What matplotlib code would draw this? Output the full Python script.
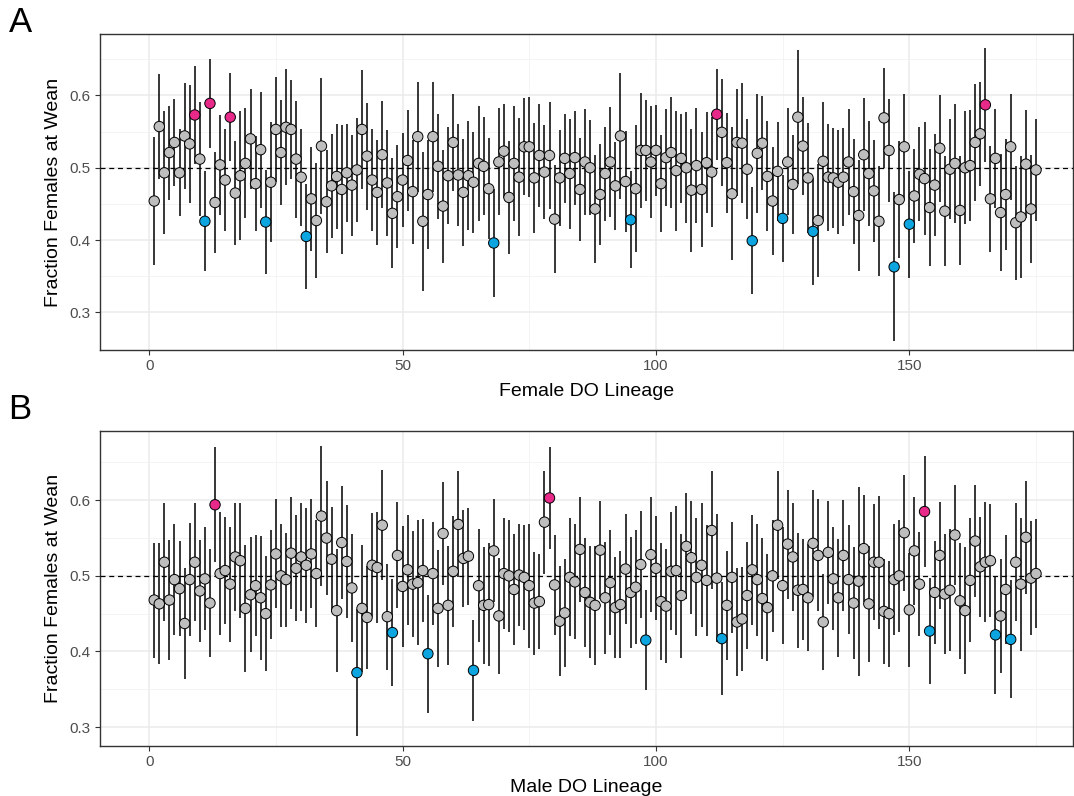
import matplotlib
matplotlib.use("Agg")
import matplotlib.pyplot as plt
import numpy as np

plt.rcParams['font.family'] = ['Liberation Sans', 'DejaVu Sans']

# Female DO lineages: fraction females at wean and half-width of the interval
female_frac = [
    0.454, 0.557, 0.493, 0.521, 0.535, 0.493, 0.544, 0.533, 0.573, 0.512,
    0.426, 0.589, 0.452, 0.504, 0.483, 0.570, 0.465, 0.489, 0.506, 0.540,
    0.478, 0.525, 0.425, 0.480, 0.553, 0.521, 0.556, 0.553, 0.512, 0.487,
    0.405, 0.457, 0.427, 0.530, 0.453, 0.475, 0.488, 0.470, 0.493, 0.476,
    0.497, 0.553, 0.516, 0.483, 0.466, 0.518, 0.479, 0.437, 0.460, 0.483,
    0.510, 0.467, 0.543, 0.426, 0.463, 0.543, 0.502, 0.447, 0.489, 0.535,
    0.490, 0.466, 0.489, 0.480, 0.506, 0.502, 0.471, 0.396, 0.508, 0.523,
    0.459, 0.506, 0.487, 0.529, 0.529, 0.486, 0.517, 0.494, 0.517, 0.429,
    0.486, 0.513, 0.492, 0.514, 0.470, 0.508, 0.500, 0.443, 0.463, 0.492,
    0.508, 0.475, 0.544, 0.481, 0.428, 0.471, 0.524, 0.524, 0.508, 0.524,
    0.478, 0.514, 0.521, 0.496, 0.513, 0.500, 0.469, 0.503, 0.470, 0.507,
    0.494, 0.574, 0.549, 0.507, 0.464, 0.535, 0.534, 0.498, 0.399, 0.520,
    0.534, 0.488, 0.454, 0.495, 0.430, 0.508, 0.477, 0.570, 0.530, 0.486,
    0.412, 0.427, 0.509, 0.487, 0.486, 0.480, 0.487, 0.508, 0.467, 0.434,
    0.518, 0.492, 0.468, 0.426, 0.569, 0.524, 0.363, 0.456, 0.529, 0.422,
    0.461, 0.491, 0.485, 0.445, 0.476, 0.527, 0.440, 0.498, 0.506, 0.441,
    0.500, 0.503, 0.535, 0.547, 0.587, 0.457, 0.513, 0.438, 0.463, 0.529,
    0.424, 0.432, 0.505, 0.443, 0.497,
]
female_err = [
    0.089, 0.073, 0.085, 0.065, 0.060, 0.060, 0.073, 0.082, 0.068, 0.079,
    0.069, 0.062, 0.070, 0.069, 0.070, 0.061, 0.072, 0.089, 0.076, 0.069,
    0.066, 0.080, 0.072, 0.083, 0.073, 0.073, 0.080, 0.069, 0.081, 0.067,
    0.073, 0.072, 0.080, 0.094, 0.071, 0.072, 0.072, 0.089, 0.068, 0.070,
    0.072, 0.082, 0.074, 0.071, 0.073, 0.074, 0.073, 0.076, 0.071, 0.065,
    0.070, 0.072, 0.076, 0.096, 0.076, 0.076, 0.073, 0.078, 0.067, 0.067,
    0.070, 0.074, 0.075, 0.070, 0.079, 0.068, 0.070, 0.075, 0.074, 0.065,
    0.078, 0.079, 0.082, 0.067, 0.069, 0.076, 0.071, 0.065, 0.074, 0.075,
    0.066, 0.062, 0.076, 0.065, 0.071, 0.073, 0.066, 0.075, 0.070, 0.065,
    0.076, 0.061, 0.087, 0.070, 0.067, 0.088, 0.079, 0.070, 0.077, 0.063,
    0.067, 0.067, 0.077, 0.083, 0.062, 0.077, 0.085, 0.079, 0.080, 0.070,
    0.076, 0.063, 0.074, 0.069, 0.092, 0.074, 0.083, 0.069, 0.074, 0.082,
    0.065, 0.076, 0.075, 0.068, 0.060, 0.074, 0.068, 0.093, 0.068, 0.076,
    0.074, 0.078, 0.082, 0.074, 0.069, 0.072, 0.068, 0.073, 0.073, 0.077,
    0.078, 0.072, 0.071, 0.076, 0.069, 0.071, 0.103, 0.081, 0.073, 0.074,
    0.065, 0.065, 0.078, 0.081, 0.071, 0.074, 0.076, 0.069, 0.082, 0.075,
    0.078, 0.077, 0.081, 0.072, 0.079, 0.073, 0.068, 0.081, 0.077, 0.073,
    0.079, 0.084, 0.075, 0.075, 0.070,
]
female_high = [9, 12, 16, 112, 165]
female_low = [11, 23, 31, 68, 95, 119, 125, 131, 147, 150]

# Male DO lineages
male_frac = [
    0.468, 0.463, 0.518, 0.468, 0.495, 0.483, 0.437, 0.495, 0.518, 0.480,
    0.496, 0.464, 0.594, 0.503, 0.507, 0.489, 0.525, 0.520, 0.457, 0.475,
    0.487, 0.471, 0.450, 0.488, 0.529, 0.500, 0.495, 0.530, 0.510, 0.525,
    0.514, 0.529, 0.503, 0.579, 0.550, 0.522, 0.454, 0.544, 0.519, 0.484,
    0.372, 0.457, 0.445, 0.514, 0.511, 0.567, 0.446, 0.425, 0.527, 0.486,
    0.508, 0.489, 0.491, 0.507, 0.397, 0.503, 0.457, 0.556, 0.461, 0.506,
    0.568, 0.523, 0.526, 0.375, 0.487, 0.461, 0.462, 0.533, 0.447, 0.503,
    0.500, 0.482, 0.501, 0.498, 0.487, 0.464, 0.466, 0.571, 0.603, 0.488,
    0.440, 0.451, 0.498, 0.492, 0.535, 0.478, 0.465, 0.461, 0.534, 0.471,
    0.491, 0.458, 0.462, 0.509, 0.478, 0.485, 0.515, 0.415, 0.528, 0.510,
    0.466, 0.460, 0.506, 0.507, 0.474, 0.539, 0.524, 0.498, 0.514, 0.494,
    0.560, 0.497, 0.417, 0.461, 0.498, 0.439, 0.443, 0.474, 0.508, 0.495,
    0.470, 0.458, 0.500, 0.567, 0.487, 0.542, 0.525, 0.481, 0.482, 0.471,
    0.543, 0.527, 0.439, 0.531, 0.496, 0.471, 0.527, 0.495, 0.464, 0.493,
    0.536, 0.463, 0.518, 0.518, 0.453, 0.450, 0.495, 0.500, 0.557, 0.455,
    0.533, 0.489, 0.585, 0.427, 0.478, 0.527, 0.476, 0.481, 0.554, 0.467,
    0.454, 0.494, 0.546, 0.512, 0.518, 0.520, 0.422, 0.447, 0.482, 0.416,
    0.518, 0.489, 0.551, 0.497, 0.503,
]
male_err = [
    0.076, 0.080, 0.078, 0.079, 0.073, 0.063, 0.074, 0.075, 0.078, 0.068,
    0.068, 0.071, 0.076, 0.081, 0.071, 0.076, 0.071, 0.076, 0.084, 0.076,
    0.067, 0.082, 0.076, 0.072, 0.072, 0.068, 0.062, 0.074, 0.070, 0.071,
    0.076, 0.072, 0.071, 0.093, 0.075, 0.069, 0.081, 0.075, 0.075, 0.071,
    0.084, 0.084, 0.068, 0.069, 0.073, 0.073, 0.070, 0.071, 0.070, 0.080,
    0.073, 0.070, 0.083, 0.068, 0.078, 0.068, 0.077, 0.068, 0.079, 0.073,
    0.070, 0.064, 0.064, 0.067, 0.075, 0.077, 0.081, 0.068, 0.077, 0.073,
    0.074, 0.073, 0.067, 0.069, 0.082, 0.068, 0.063, 0.068, 0.068, 0.066,
    0.073, 0.071, 0.078, 0.076, 0.069, 0.072, 0.074, 0.079, 0.065, 0.074,
    0.069, 0.067, 0.071, 0.073, 0.073, 0.075, 0.071, 0.066, 0.076, 0.069,
    0.077, 0.075, 0.078, 0.085, 0.082, 0.070, 0.075, 0.078, 0.082, 0.073,
    0.078, 0.085, 0.075, 0.072, 0.073, 0.072, 0.069, 0.071, 0.073, 0.074,
    0.080, 0.071, 0.074, 0.071, 0.077, 0.072, 0.071, 0.076, 0.067, 0.071,
    0.071, 0.074, 0.063, 0.068, 0.068, 0.078, 0.073, 0.072, 0.074, 0.125,
    0.071, 0.077, 0.077, 0.088, 0.069, 0.070, 0.073, 0.074, 0.077, 0.075,
    0.071, 0.069, 0.073, 0.070, 0.068, 0.071, 0.079, 0.081, 0.066, 0.077,
    0.084, 0.082, 0.074, 0.066, 0.079, 0.075, 0.078, 0.075, 0.072, 0.078,
    0.078, 0.088, 0.075, 0.075, 0.072,
]
male_high = [13, 79, 153]
male_low = [41, 48, 55, 64, 98, 113, 154, 167, 170]

PINK = '#E7298A'
BLUE = '#0DA5E0'
GREY = '#BEBEBE'


def draw_panel(ax, frac, err, high, low, xlabel, ylim):
    frac = np.array(frac)
    err = np.array(err)
    x = np.arange(1, len(frac) + 1)
    cols = [GREY] * len(frac)
    for i in high:
        cols[i - 1] = PINK
    for i in low:
        cols[i - 1] = BLUE
    ax.vlines(x, frac - err, frac + err, color='black', lw=1.1, zorder=2)
    ax.axhline(0.5, color='black', ls=(0, (4, 3)), lw=0.9, zorder=3)
    ax.scatter(x, frac, s=56, c=cols, edgecolors='black', linewidths=0.7, zorder=4)

    ax.set_xlim(-9.7, 182.3)
    ax.set_ylim(*ylim)
    ax.set_xticks([0, 50, 100, 150])
    ax.set_xticks([25, 75, 125, 175], minor=True)
    ax.set_yticks([0.3, 0.4, 0.5, 0.6])
    ax.set_yticks([0.35, 0.45, 0.55, 0.65], minor=True)
    ax.grid(which='major', color='#EBEBEB', lw=1.1, zorder=0)
    ax.grid(which='minor', color='#F2F2F2', lw=0.6, zorder=0)
    ax.set_axisbelow(True)
    for sp in ax.spines.values():
        sp.set_color('#333333')
        sp.set_linewidth(1.0)
    ax.tick_params(which='major', length=3.5, width=0.8, color='#333333',
                   labelsize=11, labelcolor='#4D4D4D', pad=3)
    ax.tick_params(which='minor', length=0)
    ax.set_xlabel(xlabel, fontsize=14, labelpad=7)
    ax.set_ylabel('Fraction Females at Wean', fontsize=14, labelpad=6)


fig = plt.figure(figsize=(10.74, 7.96), dpi=100)
axA = fig.add_axes([0.0931, 0.5603, 0.906, 0.397])
axB = fig.add_axes([0.0931, 0.0628, 0.906, 0.3957])

draw_panel(axA, female_frac, female_err, female_high, female_low,
           'Female DO Lineage', (0.248, 0.685))
draw_panel(axB, male_frac, male_err, male_high, male_low,
           'Male DO Lineage', (0.275, 0.6915))

fig.text(0.008, 0.972, 'A', fontsize=25, va='center', ha='left')
fig.text(0.008, 0.485, 'B', fontsize=25, va='center', ha='left')

fig.savefig('out.png', dpi=100)
